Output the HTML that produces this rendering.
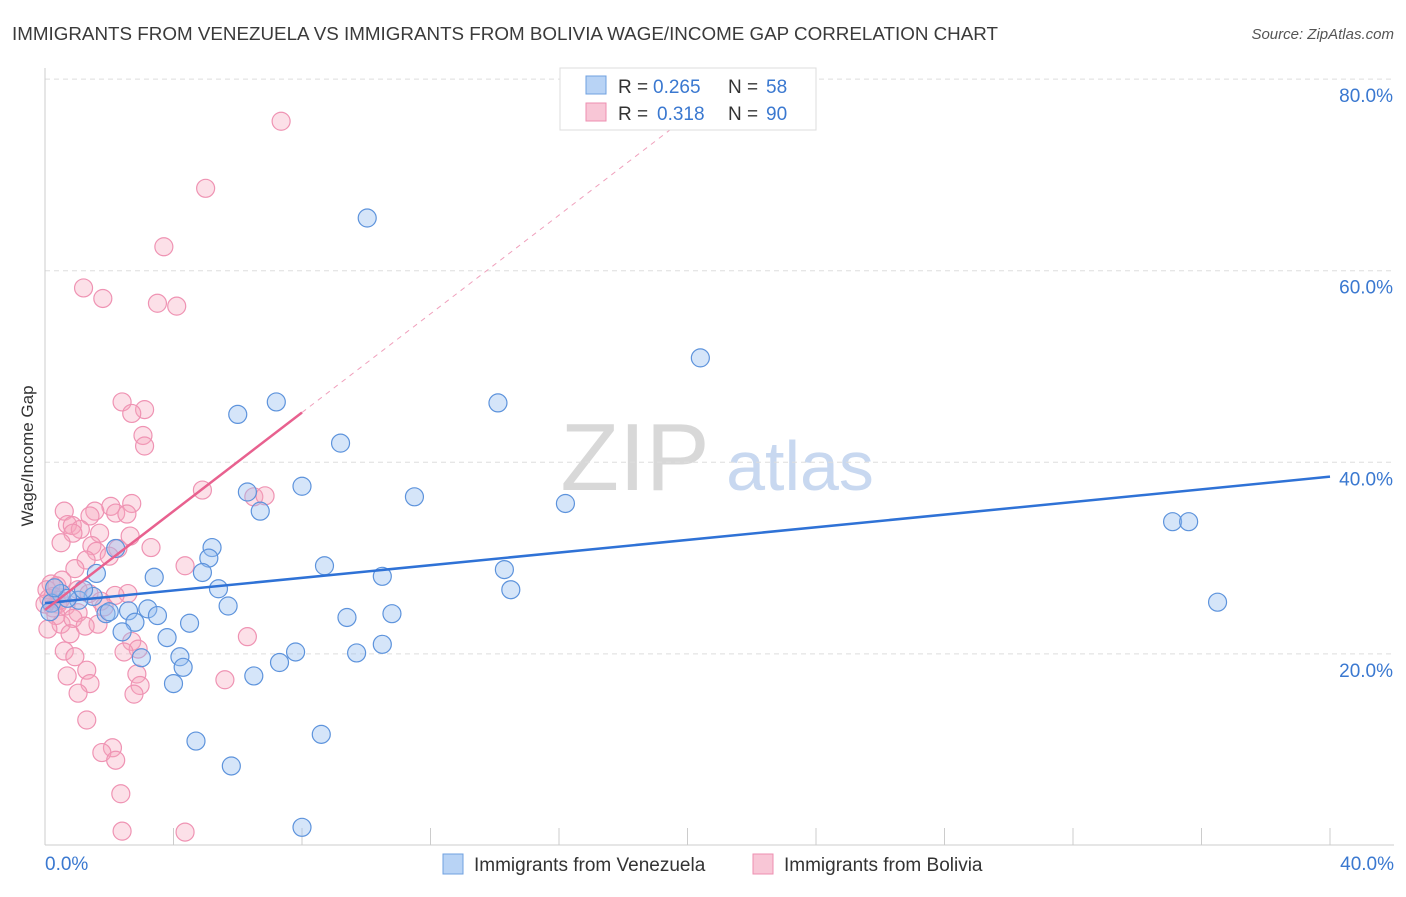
<!DOCTYPE html>
<html><head><meta charset="utf-8"><style>
body{margin:0;background:#fff;font-family:"Liberation Sans",sans-serif}
svg text{font-family:"Liberation Sans",sans-serif}
</style></head><body>
<svg id="chart" width="1406" height="892" xmlns="http://www.w3.org/2000/svg">
<text x="12" y="40" font-size="18" fill="#3a3a3a" textLength="986" lengthAdjust="spacingAndGlyphs">IMMIGRANTS FROM VENEZUELA VS IMMIGRANTS FROM BOLIVIA WAGE/INCOME GAP CORRELATION CHART</text>
<text x="1394" y="39" font-size="15" font-style="italic" fill="#555" text-anchor="end">Source: ZipAtlas.com</text>
<text transform="translate(33,456) rotate(-90)" font-size="17" fill="#333" text-anchor="middle">Wage/Income Gap</text>
<g>
<text x="635" y="490" font-size="96" font-family="Liberation Serif" fill="#d8d8d8" text-anchor="middle">ZIP</text>
<text x="800" y="490" font-size="70" fill="#c8d8f0" text-anchor="middle">atlas</text>
</g>
<g id="grid"></g><g id="axes"></g><g id="pts"></g><g id="lines"></g>
<g>
<rect x="560" y="68" width="256" height="62" fill="#fff" stroke="#ddd"/>
<rect x="586" y="76" width="20" height="18" fill="#b8d3f5" stroke="#6fa0e0"/>
<text x="618" y="93" font-size="19" fill="#333">R =</text>
<text x="653" y="93" font-size="19" fill="#3a78d0">0.265</text>
<text x="728" y="93" font-size="19" fill="#333">N =</text>
<text x="766" y="93" font-size="19" fill="#3a78d0">58</text>
<rect x="586" y="103" width="20" height="18" fill="#f8c6d6" stroke="#ee8fb0"/>
<text x="618" y="120" font-size="19" fill="#333">R =</text>
<text x="657" y="120" font-size="19" fill="#3a78d0">0.318</text>
<text x="728" y="120" font-size="19" fill="#333">N =</text>
<text x="766" y="120" font-size="19" fill="#3a78d0">90</text>
</g>
<g>
<rect x="443" y="854" width="20" height="20" fill="#b8d3f5" stroke="#6fa0e0"/>
<text x="474" y="871" font-size="19" fill="#333">Immigrants from Venezuela</text>
<rect x="753" y="854" width="20" height="20" fill="#f8c6d6" stroke="#ee8fb0"/>
<text x="784" y="871" font-size="19" fill="#333">Immigrants from Bolivia</text>
</g>
</svg>
<script>
const blueX=[10.03,20.4,14.1,7.2,6.0,9.2,8.0,6.3,11.5,16.2,6.7,35.1,35.6,36.5,5.2,2.2,5.1,8.7,14.3,10.5,3.4,1.6,4.9,5.4,14.5,5.7,1.5,1.05,0.5,0.2,2.6,3.2,3.5,1.9,2.8,4.5,9.4,10.8,2.4,3.8,10.5,7.8,9.7,4.2,3.0,4.3,7.3,6.5,4.0,4.7,8.6,5.8,8.0,1.2,0.7,0.3,2.0,0.15];
const blueY=[65.5,50.9,46.2,46.3,45.0,42.0,37.5,36.9,36.4,35.7,34.9,33.8,33.8,25.4,31.1,31.0,30.0,29.2,28.8,28.1,28.0,28.4,28.5,26.8,26.7,25.0,26.0,25.6,26.3,25.3,24.5,24.7,24.0,24.2,23.3,23.2,23.8,24.2,22.3,21.7,21.0,20.2,20.1,19.7,19.6,18.6,19.1,17.7,16.9,10.9,11.6,8.3,1.9,26.7,25.8,26.9,24.4,24.4];
const pinkX=[7.35,5.0,3.7,1.2,1.8,3.5,4.1,2.4,3.1,2.7,3.05,3.1,4.9,6.5,6.85,2.7,2.05,1.55,0.6,2.2,1.4,2.55,0.7,0.85,1.1,1.7,0.87,2.65,0.5,1.46,2.27,3.3,1.6,2.0,1.28,4.36,0.93,0.53,0.19,0.06,0.37,1.03,1.37,2.58,2.18,1.74,0.12,0.4,0.65,0.25,1.84,1.03,0.34,0.5,0.87,1.65,1.25,0.09,0.78,6.3,2.7,2.9,2.46,0.6,0.93,1.3,2.86,0.69,5.6,1.4,2.96,1.03,2.77,1.3,2.1,1.77,2.2,2.36,2.4,4.36,0.25,0.47,0.0];
const pinkY=[75.6,68.6,62.5,58.2,57.1,56.6,56.3,46.3,45.5,45.1,42.8,41.7,37.1,36.4,36.5,35.7,35.4,34.9,34.9,34.7,34.4,34.6,33.5,33.4,33.0,32.6,32.6,32.3,31.6,31.3,31.0,31.1,30.7,30.2,29.8,29.2,28.9,27.7,27.3,26.7,27.1,26.7,26.3,26.3,26.1,25.5,25.8,25.2,25.0,24.8,24.9,24.3,24.0,23.1,23.7,23.1,22.9,22.6,22.1,21.8,21.3,20.5,20.2,20.3,19.7,18.3,17.9,17.7,17.3,16.9,16.7,15.9,15.8,13.1,10.2,9.7,8.9,5.4,1.5,1.4,26.0,25.6,25.2];
const blueLine=[25.3,38.5];
const pinkLine=[24.6,45.2];
const yTicks=[20,40,60,80];
const NS="http://www.w3.org/2000/svg";
const sx=v=>45+v/40*1285, sy=v=>845.5-v/20*191.6;
function mk(p,t,a){const e=document.createElementNS(NS,t);for(const k in a)e.setAttribute(k,a[k]);p.appendChild(e);return e;}
const grid=document.getElementById('grid'),axes=document.getElementById('axes'),pts=document.getElementById('pts'),lines=document.getElementById('lines');
yTicks.forEach(t=>{
 const l=mk(grid,'line',{x1:45,x2:1394,y1:sy(t),y2:sy(t),stroke:'#ddd','stroke-dasharray':'5,4'});
 
 
 const tx=mk(grid,'text',{x:1393,y:sy(t)+23,'font-size':19,fill:'#3a78d0','text-anchor':'end'});
 tx.textContent=t.toFixed(1)+'%';
 
 
});
const ax=mk(axes,'line',{x1:45,x2:1394,y1:845,y2:845,stroke:'#ccc'});


const ay=mk(axes,'line',{x1:45,x2:45,y1:68,y2:845,stroke:'#ccc'});


for(let i=0;i<=10;i++){const t=mk(axes,'line',{x1:sx(i*4),x2:sx(i*4),y1:828,y2:845,stroke:'#ccc'});
 
 }
[['0.0%',45,'start'],['40.0%',1394,'end']].forEach(([s,x,a])=>{const t=mk(axes,'text',{x:x,y:870,'font-size':19,fill:'#3a78d0','text-anchor':a});t.textContent=s;
 
 });
pinkX.forEach((x,i)=>{const c=mk(pts,'circle',{cx:sx(x),cy:sy(pinkY[i]),r:9,fill:'rgba(245,165,190,0.35)',stroke:'#ef93b3','stroke-width':1.2});
 
 });
blueX.forEach((x,i)=>{const c=mk(pts,'circle',{cx:sx(x),cy:sy(blueY[i]),r:9,fill:'rgba(150,190,240,0.4)',stroke:'#5d93dc','stroke-width':1.2});
 
 });
const bl=mk(lines,'line',{x1:sx(0),y1:sy(blueLine[0]),x2:sx(40),y2:sy(blueLine[1]),stroke:'#2f72d6','stroke-width':2.5});


const slope=(pinkLine[1]-pinkLine[0])/8, xe=(78-pinkLine[0])/slope;
const pd=mk(lines,'line',{x1:sx(8),y1:sy(pinkLine[1]),x2:sx(xe),y2:sy(78),stroke:'#f0a0bc','stroke-width':1,'stroke-dasharray':'5,5'});


const pl=mk(lines,'line',{x1:sx(0),y1:sy(pinkLine[0]),x2:sx(8),y2:sy(pinkLine[1]),stroke:'#e8618f','stroke-width':2.5});


</script>
</body></html>
